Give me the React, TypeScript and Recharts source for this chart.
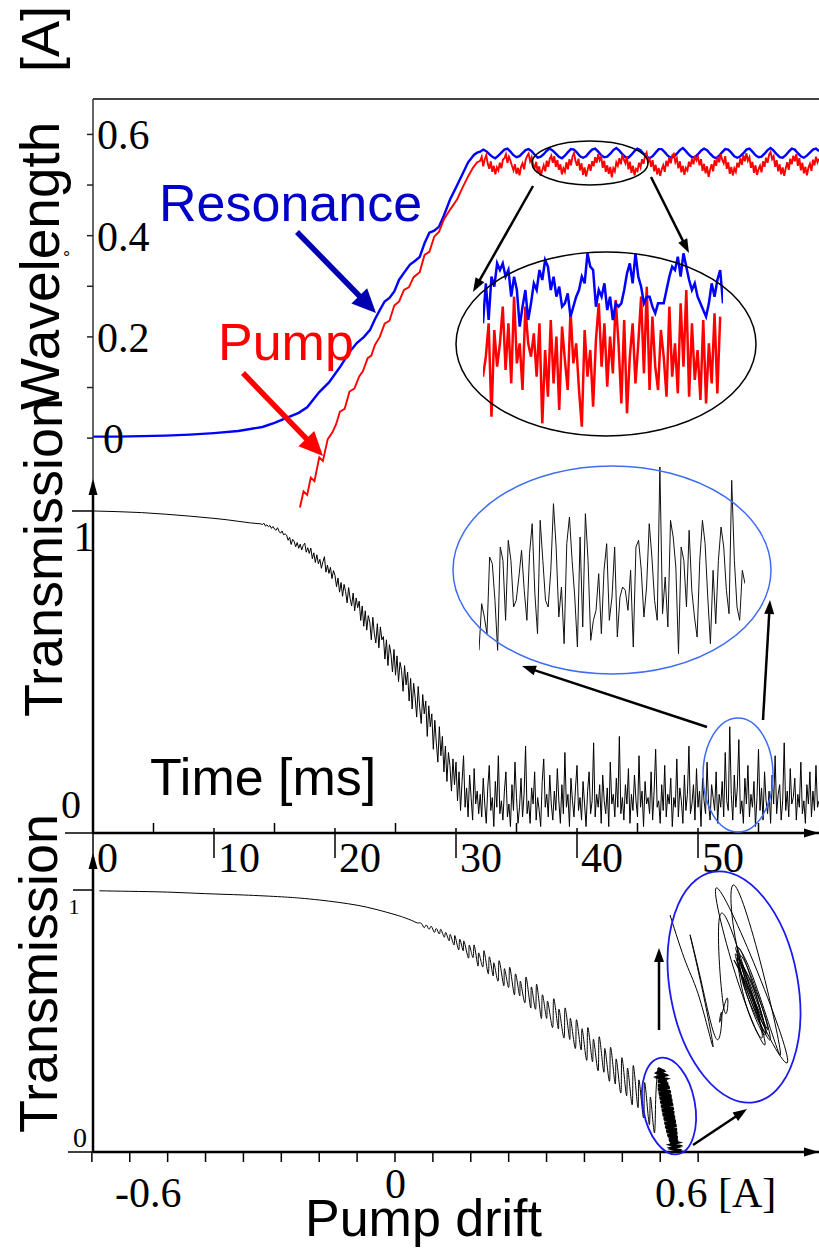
import React from 'react';
import { LineChart, Line, XAxis, YAxis } from 'recharts';

const SERIF = '"Liberation Serif", "Times New Roman", serif';
const SANS = '"Liberation Sans", Arial, sans-serif';

// ---------- Top panel: wavelength [A] vs time [ms] ----------
const WL_TICKS = [0, 0.1, 0.2, 0.3, 0.4, 0.5, 0.6];
const WL_LABELS = [0, 0.2, 0.4, 0.6];
const TIME_TICKS = [0, 5, 10, 15, 20, 25, 30, 35, 40, 45, 50, 55];
const TIME_LABELS = [0, 10, 20, 30, 40, 50];

const RES_RISE_T = [0, 2, 4, 6, 8, 10, 12, 13, 14, 15, 16, 17, 17.7, 18.7, 19.5, 20.4, 21.2, 21.8, 22.4, 22.9, 23.3, 23.7, 24.1, 24.5, 24.9, 25.3, 25.8, 26.2, 26.6, 27, 27.4, 27.8, 28.2, 28.6, 29, 29.5, 30, 30.5, 31, 31.5, 31.75];
const RES_RISE_V = [0.003, 0.003, 0.004, 0.005, 0.007, 0.01, 0.014, 0.018, 0.022, 0.03, 0.04, 0.05, 0.061, 0.091, 0.11, 0.14, 0.17, 0.188, 0.2, 0.214, 0.235, 0.253, 0.27, 0.277, 0.29, 0.313, 0.33, 0.343, 0.35, 0.358, 0.385, 0.406, 0.41, 0.418, 0.44, 0.471, 0.495, 0.52, 0.545, 0.56, 0.564];
const PUMP_RISE_T = [17.1, 17.4, 17.7, 18.0, 18.3, 18.7, 19.0, 19.4, 19.8, 20.1, 20.4, 20.8, 21.2, 21.6, 22.0, 22.3, 22.7, 23.0, 23.3, 23.7, 24.1, 24.5, 24.9, 25.3, 25.7, 26.1, 26.5, 27.0, 27.4, 27.8, 28.2, 28.6, 29.0, 29.5, 30.1, 30.5, 31.0, 31.4, 31.75];
const PUMP_RISE_V = [-0.137, -0.105, -0.112, -0.078, -0.085, -0.038, -0.045, -0.002, 0.012, 0.028, 0.052, 0.058, 0.092, 0.098, 0.122, 0.132, 0.158, 0.163, 0.184, 0.2, 0.226, 0.232, 0.262, 0.27, 0.293, 0.298, 0.318, 0.328, 0.362, 0.368, 0.398, 0.408, 0.432, 0.451, 0.472, 0.493, 0.517, 0.534, 0.545];

// plateau samples from 32 ms to 60 ms
const PLATEAU_START = 32;
const RES_STEP = 0.25;
const FINE_STEP = 0.125;
const RES_PLATEAU = [
  0.566, 0.57, 0.567, 0.561, 0.556, 0.553, 0.558, 0.564,
  0.57, 0.572, 0.566, 0.559, 0.555, 0.557, 0.563, 0.569,
  0.571, 0.567, 0.56, 0.554, 0.556, 0.561, 0.568, 0.572,
  0.568, 0.562, 0.556, 0.553, 0.558, 0.565, 0.571, 0.57,
  0.564, 0.557, 0.554, 0.557, 0.564, 0.57, 0.572, 0.566,
  0.559, 0.555, 0.556, 0.562, 0.569, 0.573, 0.568, 0.561,
  0.555, 0.554, 0.56, 0.567, 0.572, 0.569, 0.562, 0.556,
  0.553, 0.557, 0.564, 0.571, 0.571, 0.565, 0.558, 0.554,
  0.556, 0.562, 0.569, 0.573, 0.567, 0.56, 0.555, 0.555,
  0.561, 0.568, 0.572, 0.569, 0.562, 0.556, 0.553, 0.558,
  0.565, 0.571, 0.57, 0.564, 0.557, 0.554, 0.557, 0.563,
  0.57, 0.572, 0.566, 0.559, 0.555, 0.556, 0.562, 0.569,
  0.573, 0.568, 0.561, 0.555, 0.554, 0.559, 0.566, 0.572,
  0.57, 0.563, 0.557, 0.554, 0.558, 0.564, 0.57, 0.572, 0.567,
];
const PUMP_PLATEAU = [
  0.548, 0.556, 0.537, 0.551, 0.559, 0.542, 0.532, 0.547, 0.526, 0.538, 0.521, 0.535, 0.529, 0.544, 0.533, 0.55,
  0.553, 0.561, 0.544, 0.556, 0.548, 0.538, 0.529, 0.541, 0.522, 0.534, 0.519, 0.536, 0.543, 0.531, 0.549, 0.557,
  0.562, 0.547, 0.555, 0.541, 0.533, 0.546, 0.524, 0.537, 0.518, 0.529, 0.539, 0.527, 0.548, 0.536, 0.552, 0.558,
  0.544, 0.557, 0.536, 0.549, 0.53, 0.541, 0.521, 0.533, 0.526, 0.545, 0.531, 0.551, 0.539, 0.556, 0.563, 0.548,
  0.538, 0.552, 0.529, 0.543, 0.52, 0.535, 0.517, 0.53, 0.541, 0.528, 0.547, 0.537, 0.555, 0.544, 0.561, 0.549,
  0.556, 0.534, 0.548, 0.526, 0.539, 0.522, 0.536, 0.515, 0.533, 0.527, 0.545, 0.538, 0.553, 0.541, 0.56, 0.55,
  0.543, 0.557, 0.531, 0.546, 0.524, 0.538, 0.519, 0.532, 0.528, 0.544, 0.535, 0.551, 0.542, 0.558, 0.564, 0.546,
  0.552, 0.536, 0.549, 0.527, 0.54, 0.521, 0.534, 0.518, 0.531, 0.539, 0.526, 0.548, 0.537, 0.555, 0.543, 0.559,
  0.562, 0.545, 0.553, 0.533, 0.547, 0.525, 0.538, 0.52, 0.534, 0.529, 0.546, 0.536, 0.552, 0.541, 0.558, 0.549,
  0.556, 0.539, 0.551, 0.528, 0.542, 0.523, 0.537, 0.516, 0.53, 0.541, 0.527, 0.549, 0.538, 0.556, 0.545, 0.561,
  0.55, 0.543, 0.557, 0.532, 0.545, 0.522, 0.536, 0.519, 0.533, 0.526, 0.544, 0.535, 0.553, 0.54, 0.559, 0.547,
  0.563, 0.548, 0.555, 0.534, 0.546, 0.524, 0.539, 0.52, 0.531, 0.538, 0.525, 0.547, 0.536, 0.554, 0.544, 0.56,
  0.565, 0.551, 0.557, 0.536, 0.549, 0.527, 0.541, 0.521, 0.535, 0.518, 0.533, 0.545, 0.53, 0.552, 0.541, 0.558,
  0.547, 0.561, 0.538, 0.553, 0.529, 0.544, 0.523, 0.536, 0.519, 0.534, 0.542, 0.528, 0.55, 0.539, 0.556, 0.545, 0.552,
];

// zoomed inset (relative units)
const INSET_RES = [35, 47, 36, 49, 46, 53, 51, 53, 49, 51, 43, 49, 45, 34, 40, 45, 36, 41, 47, 45, 51, 48, 54, 52, 45, 49, 43, 46, 40, 41, 44, 37, 40, 43, 45, 49, 47, 56, 52, 51, 40, 45, 43, 47, 39, 43, 36, 41, 40, 41, 45, 50, 53, 47, 56, 49, 46, 41, 43, 43, 40, 38, 41, 41, 41, 45, 49, 52, 51, 55, 49, 56, 52, 48, 45, 47, 43, 41, 39, 37, 41, 47, 43, 48, 51, 41];
const INSET_PUMP = [19, 25, 35, 7, 33, 22, 29, 40, 21, 35, 17, 43, 23, 29, 15, 40, 29, 25, 32, 19, 35, 5, 27, 13, 36, 17, 31, 9, 34, 24, 15, 39, 23, 29, 15, 4, 33, 19, 27, 10, 30, 41, 22, 35, 16, 31, 20, 42, 29, 11, 36, 8, 25, 35, 17, 29, 43, 20, 46, 15, 37, 22, 15, 33, 25, 13, 40, 19, 29, 14, 41, 22, 45, 13, 35, 18, 27, 12, 36, 11, 29, 17, 38, 14, 37];

// ---------- Middle panel: transmission vs time ----------
const TR_SMOOTH_T = [0, 2, 4, 6, 8, 10, 11, 12, 13, 13.875];
const TR_SMOOTH_V = [1.0, 0.998, 0.995, 0.99, 0.984, 0.977, 0.973, 0.968, 0.963, 0.96];
const TR_NOISY_START = 14;
const TR_NOISY = [
  0.958, 0.962, 0.953, 0.957, 0.951, 0.955, 0.946, 0.952, 0.944, 0.94, 0.948, 0.937, 0.931, 0.938, 0.926, 0.929,
  0.925, 0.909, 0.918, 0.896, 0.912, 0.905, 0.889, 0.902, 0.884, 0.897, 0.879, 0.893, 0.9, 0.872, 0.886, 0.868,
  0.885, 0.852, 0.87, 0.84, 0.864, 0.836, 0.85, 0.822, 0.842, 0.858, 0.81, 0.832, 0.806, 0.825, 0.79, 0.815,
  0.8, 0.765, 0.792, 0.748, 0.778, 0.735, 0.772, 0.75, 0.715, 0.762, 0.728, 0.705, 0.745, 0.69, 0.73, 0.7,
  0.72, 0.66, 0.705, 0.642, 0.69, 0.63, 0.675, 0.655, 0.6, 0.67, 0.62, 0.59, 0.65, 0.575, 0.64, 0.6,
  0.61, 0.54, 0.6, 0.52, 0.585, 0.555, 0.5, 0.57, 0.49, 0.55, 0.47, 0.53, 0.505, 0.44, 0.52, 0.46,
  0.5, 0.41, 0.48, 0.385, 0.465, 0.42, 0.36, 0.455, 0.39, 0.34, 0.43, 0.37, 0.41, 0.3, 0.395, 0.33,
  0.37, 0.26, 0.35, 0.28, 0.22, 0.33, 0.24, 0.3, 0.19, 0.27, 0.16, 0.25, 0.21, 0.13, 0.23, 0.15,
  0.22, 0.1, 0.19, 0.07, 0.16, 0.24, 0.08, 0.14, 0.05, 0.18, 0.11, 0.04, 0.2, 0.09, 0.13, 0.06,
  0.12, 0.05, 0.17, 0.09, 0.03, 0.14, 0.21, 0.07, 0.11, 0.02, 0.16, 0.08, 0.24, 0.06, 0.1, 0.04,
  0.13, 0.19, 0.05, 0.09, 0.02, 0.15, 0.07, 0.22, 0.11, 0.03, 0.08, 0.17, 0.05, 0.12, 0.27, 0.06,
  0.1, 0.03, 0.14, 0.09, 0.19, 0.04, 0.11, 0.07, 0.02, 0.16, 0.23, 0.08, 0.12, 0.05, 0.18, 0.09,
  0.04, 0.13, 0.07, 0.2, 0.1, 0.03, 0.15, 0.06, 0.25, 0.08, 0.12, 0.02, 0.17, 0.1, 0.05, 0.14,
  0.21, 0.07, 0.11, 0.04, 0.16, 0.09, 0.02, 0.13, 0.19, 0.06, 0.1, 0.28, 0.05, 0.12, 0.08, 0.15,
  0.03, 0.18, 0.1, 0.06, 0.14, 0.02, 0.22, 0.09, 0.12, 0.05, 0.17, 0.08, 0.3, 0.06, 0.11, 0.04,
  0.15, 0.09, 0.2, 0.03, 0.12, 0.07, 0.18, 0.1, 0.05, 0.24, 0.08, 0.13, 0.02, 0.16, 0.09, 0.11,
  0.06, 0.19, 0.04, 0.13, 0.26, 0.08, 0.1, 0.03, 0.15, 0.07, 0.21, 0.05, 0.12, 0.09, 0.17, 0.02,
  0.11, 0.08, 0.23, 0.05, 0.14, 0.1, 0.03, 0.18, 0.07, 0.12, 0.27, 0.06, 0.09, 0.15, 0.04, 0.2,
  0.08, 0.13, 0.02, 0.17, 0.1, 0.06, 0.22, 0.09, 0.04, 0.15, 0.11, 0.07, 0.19, 0.03, 0.12, 0.08,
  0.16, 0.05, 0.25, 0.1, 0.07, 0.33, 0.12, 0.04, 0.18, 0.08, 0.14, 0.29, 0.06, 0.1, 0.03, 0.17,
  0.09, 0.21, 0.05, 0.12, 0.08, 0.16, 0.02, 0.11, 0.26, 0.07, 0.14, 0.04, 0.19, 0.1, 0.06, 0.13,
  0.03, 0.18, 0.09, 0.24, 0.06, 0.12, 0.15, 0.04, 0.1, 0.28, 0.07, 0.13, 0.05, 0.2, 0.09, 0.11,
  0.17, 0.04, 0.12, 0.08, 0.22, 0.06, 0.1, 0.03, 0.15, 0.09, 0.19, 0.05, 0.13, 0.07, 0.21, 0.08, 0.1,
];
const INSET_TR = [5, 19, 15, 10, 33, 31, 20, 5, 36, 32, 14, 38, 32, 18, 20, 27, 35, 23, 14, 34, 43, 22, 10, 44, 32, 20, 18, 29, 49, 36, 15, 24, 7, 37, 45, 32, 21, 6, 39, 12, 46, 32, 8, 14, 17, 28, 10, 29, 37, 14, 21, 36, 9, 21, 24, 23, 17, 29, 6, 36, 38, 29, 15, 24, 43, 33, 20, 14, 60, 16, 27, 12, 44, 39, 30, 4, 36, 32, 18, 41, 23, 15, 9, 32, 44, 37, 21, 7, 29, 13, 32, 42, 36, 23, 16, 56, 32, 18, 14, 29, 25];

// ---------- Bottom panel: transmission vs pump drift [A] ----------
const DRIFT_TICKS = [-0.8, -0.7, -0.6, -0.5, -0.4, -0.3, -0.2, -0.1, 0, 0.1, 0.2, 0.3, 0.4, 0.5, 0.6, 0.7, 0.8];
const DRIFT_CURVE: [number, number][] = [
  [-0.78, 0.997], [-0.7, 0.995], [-0.6, 0.992], [-0.5, 0.986], [-0.4, 0.981], [-0.3, 0.974], [-0.25, 0.969], [-0.2, 0.962], [-0.15, 0.953], [-0.1, 0.942], [-0.05, 0.926], [0, 0.906], [0.02, 0.897], [0.035, 0.889], [0.05, 0.88], [0.06, 0.874],
  [0.07, 0.872], [0.077, 0.856], [0.083, 0.866], [0.09, 0.85], [0.096, 0.861], [0.104, 0.838], [0.109, 0.853], [0.117, 0.832], [0.121, 0.85], [0.13, 0.82], [0.134, 0.838], [0.143, 0.806], [0.146, 0.83], [0.156, 0.79],
  [0.158, 0.826], [0.168, 0.772], [0.171, 0.812], [0.18, 0.768], [0.182, 0.805], [0.194, 0.74], [0.196, 0.79], [0.206, 0.742], [0.209, 0.79], [0.219, 0.71], [0.221, 0.76], [0.232, 0.706], [0.235, 0.768], [0.246, 0.68], [0.249, 0.745], [0.259, 0.672], [0.261, 0.722], [0.272, 0.652], [0.275, 0.73], [0.287, 0.635], [0.289, 0.7], [0.3, 0.628],
  [0.303, 0.705], [0.315, 0.6], [0.318, 0.68], [0.329, 0.596], [0.331, 0.652], [0.343, 0.57], [0.346, 0.668], [0.358, 0.55], [0.36, 0.63], [0.371, 0.545], [0.374, 0.64], [0.386, 0.51], [0.389, 0.6], [0.4, 0.51], [0.403, 0.575], [0.416, 0.475], [0.419, 0.585], [0.431, 0.47], [0.433, 0.545], [0.446, 0.435], [0.449, 0.55], [0.461, 0.43], [0.463, 0.51], [0.476, 0.395], [0.479, 0.505], [0.491, 0.39], [0.494, 0.47], [0.506, 0.35], [0.509, 0.475], [0.521, 0.345], [0.524, 0.43], [0.536, 0.31], [0.539, 0.44],
  [0.551, 0.305], [0.554, 0.395], [0.566, 0.27], [0.569, 0.4], [0.581, 0.26], [0.584, 0.355], [0.596, 0.225], [0.599, 0.36], [0.611, 0.215], [0.614, 0.32], [0.626, 0.18], [0.629, 0.33], [0.641, 0.17], [0.644, 0.275], [0.656, 0.13], [0.659, 0.265], [0.671, 0.105], [0.674, 0.21], [0.684, 0.075], [0.688, 0.2], [0.694, 0.32],
];
// dense cluster near the end of the drift (the solid blob)
const DRIFT_CLUSTER: [number, number][] = [
  [0.694, 0.32], [0.706, 0.312], [0.694, 0.304], [0.711, 0.296], [0.694, 0.288], [0.715, 0.28], [0.694, 0.272], [0.719, 0.264], [0.694, 0.256], [0.724, 0.248], [0.694, 0.24], [0.727, 0.232], [0.696, 0.224], [0.729, 0.216], [0.698, 0.208], [0.731, 0.2], [0.7, 0.192], [0.733, 0.184], [0.702, 0.176], [0.735, 0.168], [0.704, 0.16], [0.737, 0.152], [0.706, 0.144], [0.738, 0.136], [0.709, 0.128], [0.74, 0.12], [0.711, 0.112], [0.742, 0.104], [0.713, 0.096], [0.744, 0.088], [0.716, 0.08], [0.745, 0.072], [0.719, 0.064], [0.746, 0.056], [0.723, 0.048], [0.747, 0.04], [0.726, 0.032], [0.748, 0.024], [0.729, 0.016], [0.749, 0.008], [0.738, 0.0],
  [0.749, 0.004], [0.73, 0.012], [0.748, 0.02], [0.727, 0.028], [0.747, 0.036], [0.724, 0.044], [0.746, 0.052], [0.721, 0.06], [0.745, 0.068], [0.717, 0.076], [0.744, 0.084], [0.715, 0.092], [0.743, 0.1], [0.712, 0.108], [0.741, 0.116], [0.71, 0.124], [0.739, 0.132], [0.707, 0.14], [0.737, 0.148], [0.705, 0.156], [0.736, 0.164], [0.703, 0.172], [0.734, 0.18], [0.701, 0.188], [0.732, 0.196], [0.699, 0.204], [0.73, 0.212], [0.697, 0.22], [0.728, 0.228], [0.695, 0.236], [0.725, 0.244], [0.694, 0.252], [0.721, 0.26], [0.694, 0.268], [0.717, 0.276], [0.694, 0.284], [0.713, 0.292], [0.694, 0.3], [0.708, 0.308], [0.696, 0.316],
  [0.705, 0.3], [0.71, 0.28], [0.72, 0.25], [0.712, 0.24], [0.728, 0.2], [0.716, 0.19], [0.733, 0.15], [0.722, 0.14], [0.738, 0.1], [0.727, 0.09], [0.743, 0.05], [0.733, 0.04], [0.742, 0.0],
];
// magnified inset of the cluster
const LOOP_CURVE: [number, number][] = [
  [0.6911, 0.2707], [0.6995, 0.19], [0.707, 0.1269], [0.7139, 0.0474], [0.7085, 0.14], [0.7017, 0.2369], [0.7075, 0.16], [0.716, 0.06], [0.7185, 0.105], [0.7175, 0.09], [0.7215, 0.13], [0.7195, 0.115],
  [0.7176, 0.2707], [0.7319, 0.1641], [0.7414, 0.0508], [0.7271, 0.1574],
  [0.7155, 0.3164], [0.7377, 0.1726], [0.7531, 0.0203], [0.7308, 0.1641],
  [0.7245, 0.3215], [0.7398, 0.181], [0.7494, 0.0338], [0.734, 0.1743],
  [0.7261, 0.2115], [0.7358, 0.142], [0.7414, 0.0677], [0.7317, 0.1372],
  [0.7282, 0.203], [0.7371, 0.1413], [0.743, 0.0761], [0.7341, 0.1379],
  [0.725, 0.1946], [0.7342, 0.1306], [0.7398, 0.0626], [0.7307, 0.1266],
  [0.7271, 0.2149], [0.7352, 0.1513], [0.7409, 0.0846], [0.7328, 0.1482],
  [0.7292, 0.1861], [0.7387, 0.125], [0.7441, 0.0592], [0.7346, 0.1205],
  [0.7266, 0.198], [0.7337, 0.1467], [0.7388, 0.0931], [0.7317, 0.1443],
  [0.7258, 0.205], [0.7355, 0.138], [0.742, 0.07], [0.7322, 0.132], [0.7275, 0.19],
];

// ---------- data tables ----------
const resData = RES_RISE_T.map((t, i) => ({ t, v: RES_RISE_V[i] })).concat(
  RES_PLATEAU.map((v, i) => ({ t: PLATEAU_START + i * RES_STEP, v }))
);
const pumpData = PUMP_RISE_T.map((t, i) => ({ t, v: PUMP_RISE_V[i] })).concat(
  PUMP_PLATEAU.map((v, i) => ({ t: PLATEAU_START + i * FINE_STEP, v }))
);
const trData = TR_SMOOTH_T.map((t, i) => ({ t, v: TR_SMOOTH_V[i] })).concat(
  TR_NOISY.map((v, i) => ({ t: TR_NOISY_START + i * FINE_STEP, v }))
);
const insetResData = INSET_RES.map((v, i) => ({ i, v }));
const insetPumpData = INSET_PUMP.map((v, i) => ({ i, v }));
const insetTrData = INSET_TR.map((v, i) => ({ i, v }));
const driftData = DRIFT_CURVE.map(([d, T]) => ({ d, T }));
const clusterData = DRIFT_CLUSTER.map(([d, T]) => ({ d, T }));
const loopData = LOOP_CURVE.map(([d, T]) => ({ d, T }));

// ---------- tick renderers ----------
const WlTick = (p: any) => {
  const v = p.payload.value;
  const y = p.y;
  const lab = WL_LABELS.some((l) => Math.abs(l - v) < 1e-6);
  return (
    <g>
      <line x1={87} x2={93} y1={y} y2={y} stroke="#222" strokeWidth={1.5} />
      {lab && (
        <text x={v === 0 ? 103 : 97} y={y + 15} fontFamily={SERIF} fontSize={42} fill="#000">
          {v === 0 ? '0' : v.toFixed(1)}
        </text>
      )}
    </g>
  );
};

const TimeTick = (p: any) => {
  const v = p.payload.value;
  const { x, y } = p;
  const major = TIME_LABELS.includes(v);
  return (
    <g>
      {major ? (
        <line x1={x} x2={x} y1={y - 5} y2={y + 25} stroke="#000" strokeWidth={1.5} />
      ) : (
        <line x1={x} x2={x} y1={y - 10} y2={y} stroke="#000" strokeWidth={1.5} />
      )}
      {major && (
        <text x={x + 4} y={y + 39} fontFamily={SERIF} fontSize={42} fill="#000">
          {String(v)}
        </text>
      )}
    </g>
  );
};

const TrMidTick = (p: any) => {
  const v = p.payload.value;
  const y = p.y;
  if (v === 1)
    return (
      <g>
        <line x1={72} x2={93} y1={y} y2={y} stroke="#000" strokeWidth={1.5} />
        <text x={84} y={y + 40} textAnchor="middle" fontFamily={SERIF} fontSize={42} fill="#000">1</text>
      </g>
    );
  return (
    <g>
      <line x1={65} x2={93} y1={y} y2={y} stroke="#000" strokeWidth={1.5} />
      <text x={71} y={y - 15} textAnchor="middle" fontFamily={SERIF} fontSize={40} fill="#000">0</text>
    </g>
  );
};

const TrBotTick = (p: any) => {
  const v = p.payload.value;
  const y = p.y;
  if (v === 1)
    return (
      <g>
        <line x1={73} x2={93} y1={y} y2={y} stroke="#000" strokeWidth={1.5} />
        <text x={74} y={y + 24} textAnchor="middle" fontFamily={SERIF} fontSize={22} fill="#000">1</text>
      </g>
    );
  return (
    <g>
      <line x1={68} x2={93} y1={y} y2={y} stroke="#000" strokeWidth={1.5} />
      <text x={80} y={y - 5} textAnchor="middle" fontFamily={SERIF} fontSize={28} fill="#000">0</text>
    </g>
  );
};

const DriftTick = (p: any) => {
  const { x, y } = p;
  return <line x1={x} x2={x} y1={y} y2={y + 10} stroke="#000" strokeWidth={1.5} />;
};

// ---------- annotation helpers ----------
const Arrow = ({ x1, y1, x2, y2, color, w, hl, hw }: any) => {
  const dx = x2 - x1;
  const dy = y2 - y1;
  const L = Math.hypot(dx, dy);
  const ux = dx / L;
  const uy = dy / L;
  const bx = x2 - ux * hl;
  const by = y2 - uy * hl;
  const px = (-uy * hw) / 2;
  const py = (ux * hw) / 2;
  return (
    <g>
      <line x1={x1} y1={y1} x2={bx + ux} y2={by + uy} stroke={color} strokeWidth={w} />
      <polygon points={`${x2},${y2} ${bx + px},${by + py} ${bx - px},${by - py}`} fill={color} />
    </g>
  );
};

const abs = (left: number, top: number, width: number, height: number): React.CSSProperties => ({
  position: 'absolute',
  left,
  top,
  width,
  height,
});

export default function App() {
  return (
    <div style={{ position: 'absolute', left: 0, top: 0, width: 819, height: 1248, background: '#fff', overflow: 'hidden' }}>
      {/* Top panel */}
      <div style={abs(0, 0, 819, 520)}>
        <LineChart width={819} height={520} margin={{ top: 98, right: 0, left: 0, bottom: 11 }}>
          <XAxis
            orientation="top"
            type="number"
            dataKey="t"
            domain={[0, 60]}
            height={1}
            tick={false}
            tickLine={false}
            axisLine={{ stroke: '#444', strokeWidth: 2 }}
          />
          <YAxis
            type="number"
            width={93}
            domain={[-0.14, 0.67]}
            ticks={WL_TICKS}
            interval={0}
            tick={WlTick}
            tickLine={false}
            tickSize={0}
            tickMargin={0}
            axisLine={{ stroke: '#333', strokeWidth: 1.5 }}
          />
          <Line data={resData} dataKey="v" stroke="#0000ff" strokeWidth={2.4} dot={false} isAnimationActive={false} type="linear" />
          <Line data={pumpData} dataKey="v" stroke="#ff0000" strokeWidth={1.9} dot={false} isAnimationActive={false} type="linear" />
        </LineChart>
      </div>

      {/* Top inset */}
      <div style={abs(483, 240, 240, 200)}>
        <LineChart width={240} height={200} margin={{ top: 0, right: 0, left: 0, bottom: 0 }}>
          <XAxis hide type="number" dataKey="i" domain={[0, 85]} />
          <YAxis hide type="number" domain={[0, 60]} />
          <Line data={insetPumpData} dataKey="v" stroke="#ff0000" strokeWidth={2.5} dot={false} isAnimationActive={false} type="linear" />
          <Line data={insetResData} dataKey="v" stroke="#0000ff" strokeWidth={2.5} dot={false} isAnimationActive={false} type="linear" />
        </LineChart>
      </div>

      {/* Middle panel */}
      <div style={abs(0, 470, 819, 430)}>
        <LineChart width={819} height={430} margin={{ top: 12, right: 0, left: 0, bottom: 0 }}>
          <XAxis
            type="number"
            dataKey="t"
            domain={[0, 60]}
            ticks={TIME_TICKS}
            interval={0}
            height={67}
            tick={TimeTick}
            tickLine={false}
            tickSize={0}
            tickMargin={0}
            axisLine={{ stroke: '#000', strokeWidth: 2.5 }}
          />
          <YAxis
            type="number"
            width={93}
            domain={[0, 1.09]}
            ticks={[0, 1]}
            interval={0}
            tick={TrMidTick}
            tickLine={false}
            tickSize={0}
            tickMargin={0}
            axisLine={{ stroke: '#000', strokeWidth: 2.5 }}
          />
          <Line data={trData} dataKey="v" stroke="#000" strokeWidth={1} dot={false} isAnimationActive={false} type="linear" />
        </LineChart>
      </div>

      {/* Middle inset */}
      <div style={abs(479, 467, 266, 200)}>
        <LineChart width={266} height={200} margin={{ top: 0, right: 0, left: 0, bottom: 0 }}>
          <XAxis hide type="number" dataKey="i" domain={['dataMin', 'dataMax']} />
          <YAxis hide type="number" domain={[0, 60]} />
          <Line data={insetTrData} dataKey="v" stroke="#111" strokeWidth={1} dot={false} isAnimationActive={false} type="linear" />
        </LineChart>
      </div>

      {/* Bottom panel */}
      <div style={abs(0, 840, 819, 408)}>
        <LineChart width={819} height={408} margin={{ top: 17, right: 0, left: 0, bottom: 0 }}>
          <XAxis
            type="number"
            dataKey="d"
            domain={[-0.797, 1.119]}
            ticks={DRIFT_TICKS}
            interval={0}
            height={96}
            tick={DriftTick}
            tickLine={false}
            tickSize={0}
            tickMargin={0}
            axisLine={{ stroke: '#000', strokeWidth: 2.5 }}
          />
          <YAxis
            type="number"
            width={93}
            domain={[0, 1.126]}
            ticks={[0, 1]}
            interval={0}
            tick={TrBotTick}
            tickLine={false}
            tickSize={0}
            tickMargin={0}
            axisLine={{ stroke: '#000', strokeWidth: 2.5 }}
          />
          <Line data={driftData} dataKey="T" stroke="#000" strokeWidth={1} dot={false} isAnimationActive={false} type="natural" />
          <Line data={clusterData} dataKey="T" stroke="#000" strokeWidth={2.6} dot={false} isAnimationActive={false} type="linear" />
        </LineChart>
      </div>

      {/* Bottom inset */}
      <div style={abs(668, 880, 132, 195)}>
        <LineChart width={132} height={195} margin={{ top: 0, right: 0, left: 0, bottom: 0 }}>
          <XAxis hide type="number" dataKey="d" domain={[0.69, 0.76]} />
          <YAxis hide type="number" domain={[0, 0.33]} />
          <Line data={loopData} dataKey="T" stroke="#000" strokeWidth={1} dot={false} isAnimationActive={false} type="natural" />
        </LineChart>
      </div>

      {/* Annotations and labels */}
      <svg width={819} height={1248} style={{ position: 'absolute', left: 0, top: 0, pointerEvents: 'none' }}>
        <text x={59} y={410} transform="rotate(-90 59 410)" fontFamily={SANS} fontSize={55} fill="#000">Wavelength</text>
        <text x={59} y={72} transform="rotate(-90 59 72)" fontFamily={SANS} fontSize={54} fill="#000">[A]</text>
        <text x={63} y={264} fontFamily={SANS} fontSize={18} fill="#000">°</text>
        <text x={62} y={717} transform="rotate(-90 62 717)" fontFamily={SANS} fontSize={54} fill="#000">Transmission</text>
        <text x={57} y={1133} transform="rotate(-90 57 1133)" fontFamily={SANS} fontSize={54} fill="#000">Transmission</text>

        <text x={159} y={221} fontFamily={SANS} fontSize={52} fill="#0000c8">Resonance</text>
        <text x={218} y={360} fontFamily={SANS} fontSize={52} fill="#ff0000">Pump</text>
        <Arrow x1={297} y1={232} x2={376} y2={313} color="#0000b0" w={5.5} hl={24} hw={22} />
        <Arrow x1={243} y1={373} x2={323} y2={456} color="#ff0000" w={5.5} hl={24} hw={22} />
        <ellipse cx={590} cy={163} rx={58} ry={22} fill="none" stroke="#000" strokeWidth={1.5} />
        <ellipse cx={606} cy={344} rx={150} ry={92} fill="none" stroke="#000" strokeWidth={1.5} />
        <Arrow x1={533} y1={186} x2={473} y2={292} color="#000" w={2.5} hl={14} hw={10} />
        <Arrow x1={651} y1={177} x2={689} y2={253} color="#000" w={2.5} hl={14} hw={10} />

        <ellipse cx={612} cy={570} rx={159} ry={104} fill="none" stroke="#3f6cf5" strokeWidth={1.5} />
        <ellipse cx={738} cy={775} rx={35} ry={57} fill="none" stroke="#3f6cf5" strokeWidth={1.5} />
        <Arrow x1={707} y1={727} x2={522} y2={666} color="#000" w={2.5} hl={14} hw={10} />
        <Arrow x1={763} y1={720} x2={770} y2={600} color="#000" w={2.5} hl={14} hw={10} />
        <text x={150} y={795} fontFamily={SANS} fontSize={52} fill="#000">Time [ms]</text>

        <polygon points="93,479 88.5,495 97.5,495" fill="#000" />
        <polygon points="819,833 804,828.5 804,837.5" fill="#000" />
        <polygon points="93,853 88.5,869 97.5,869" fill="#000" />
        <polygon points="819,1152 804,1147.5 804,1156.5" fill="#000" />

        <ellipse cx={734} cy={987} rx={64} ry={117} transform="rotate(-10.3 734 987)" fill="none" stroke="#1a1aee" strokeWidth={1.8} />
        <ellipse cx={669} cy={1106} rx={26} ry={49} transform="rotate(-10.5 669 1106)" fill="none" stroke="#1a1aee" strokeWidth={1.8} />
        <Arrow x1={659} y1={1030} x2={659} y2={948} color="#000" w={2.5} hl={14} hw={10} />
        <Arrow x1={693} y1={1145} x2={747} y2={1109} color="#000" w={2.5} hl={14} hw={10} />
        <text x={115} y={1207} fontFamily={SERIF} fontSize={42} fill="#000">-0.6</text>
        <text x={385} y={1198} fontFamily={SERIF} fontSize={42} fill="#000">0</text>
        <text x={655} y={1207} fontFamily={SERIF} fontSize={42} fill="#000">0.6 [A]</text>
        <text x={305} y={1236} fontFamily={SANS} fontSize={52} fill="#000">Pump drift</text>
      </svg>
    </div>
  );
}
